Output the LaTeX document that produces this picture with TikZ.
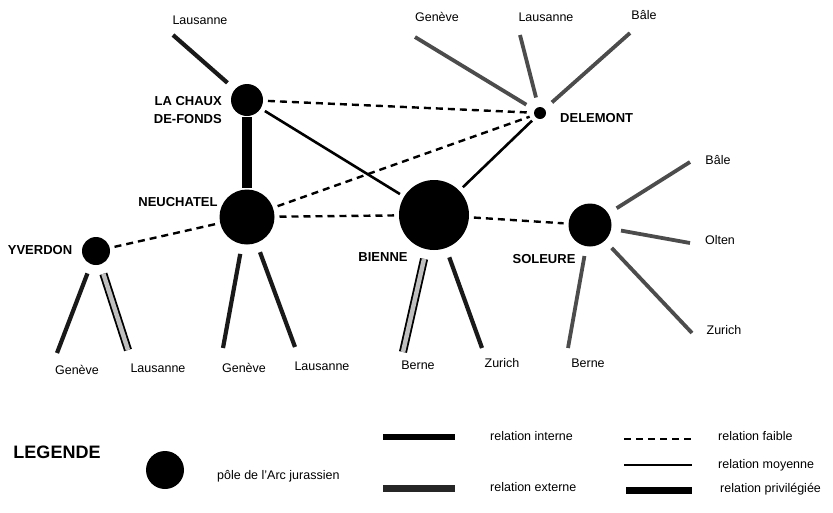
\documentclass[tikz,border=0pt]{standalone}
\usepackage{fontspec}
\setmainfont{Liberation Sans}

\begin{document}
\begin{tikzpicture}[x=1pt,y=-1pt,
    pole/.style={circle,fill=black,inner sep=0pt,outer sep=5pt},
    city/.style={inner sep=0pt,font=\fontsize{12.5}{13}\selectfont},
    town/.style={inner sep=0pt,font=\fontsize{13}{18}\selectfont\bfseries},
    faible/.style={line width=2.4pt,dash pattern=on 7pt off 5pt},
    moyenne/.style={line width=2.6pt},
    privil/.style={line width=10pt},
    ext/.style={line width=4.2pt,black!90,shorten <=5pt},
    extgris/.style={line width=3.8pt,black!70,shorten <=5pt},
    extdouble/.style={line width=1.8pt,double=black!25,double distance=4.5pt,shorten <=5pt}]

      \useasboundingbox (0,0) rectangle (833,512);

      \node (lcf) [pole,minimum size=32pt] at (247,100) {};
      \node (neu) [pole,minimum size=55pt] at (247,217) {};
      \node (yve) [pole,minimum size=28pt] at (96,251) {};
      \node (bie) [pole,minimum size=70pt] at (434,215) {};
      \node (sol) [pole,minimum size=43pt] at (590,225) {};
      \node (del) [pole,minimum size=12pt] at (540,113) {};

      \node (lcfname) [town,align=right,anchor=east] at (222,110) {LA CHAUX\\DE-FONDS};
      \node (neuname) [town] at (178,202) {NEUCHATEL};
      \node (yvename) [town] at (40,250) {YVERDON};
      \node (biename) [town] at (383,257) {BIENNE};
      \node (solname) [town] at (544,259) {SOLEURE};
      \node (delname) [town,anchor=west] at (560,118) {DELEMONT};

      \coordinate (lcflau) at (173,35);
      \coordinate (delgen) at (415,37);
      \coordinate (dellau) at (520,35);
      \coordinate (delbal) at (630,33);
      \coordinate (solbal) at (690,162);
      \coordinate (sololt) at (690,243);
      \coordinate (solzur) at (692,333);
      \coordinate (solber) at (568,348);
      \coordinate (bieber) at (403,352);
      \coordinate (biezur) at (482,348);
      \coordinate (neugen) at (223,348);
      \coordinate (neulau) at (295,347);
      \coordinate (yvegen) at (57,353);
      \coordinate (yvelau) at (128,350);

      \node (t1) [city] at (200,20) {Lausanne};
      \node (t2) [city] at (437,17) {Genève};
      \node (t3) [city] at (546,17) {Lausanne};
      \node (t4) [city] at (644,15) {Bâle};
      \node (t5) [city] at (718,160) {Bâle};
      \node (t6) [city] at (720,240) {Olten};
      \node (t7) [city] at (724,330) {Zurich};
      \node (t8) [city] at (77,370) {Genève};
      \node (t9) [city] at (158,368) {Lausanne};
      \node (t10) [city] at (244,368) {Genève};
      \node (t11) [city] at (322,366) {Lausanne};
      \node (t12) [city] at (418,365) {Berne};
      \node (t13) [city] at (502,363) {Zurich};
      \node (t14) [city] at (588,363) {Berne};

      \draw[privil,shorten <=-4pt,shorten >=-3pt] (lcf) -- (neu);
      \draw[moyenne] (lcf) -- (bie);
      \draw[moyenne] (del) -- (bie);
      \draw[faible] (lcf) -- (del);
      \draw[faible] (neu) -- (del);
      \draw[faible] (neu) -- (bie);
      \draw[faible] (yve) -- (neu);
      \draw[faible] (bie) -- (sol);

      \draw[ext] (lcf) -- (lcflau);
      \draw[extgris] (del) -- (delgen);
      \draw[extgris] (del) -- (dellau);
      \draw[extgris] (del) -- (delbal);
      \draw[extgris] (sol) -- (solbal);
      \draw[extgris] (sol) -- (sololt);
      \draw[extgris] (sol) -- (solzur);
      \draw[extgris] (sol) -- (solber);
      \draw[extdouble] (bie) -- (bieber);
      \draw[ext] (bie) -- (biezur);
      \draw[ext] (neu) -- (neugen);
      \draw[ext] (neu) -- (neulau);
      \draw[ext] (yve) -- (yvegen);
      \draw[extdouble] (yve) -- (yvelau);

      \node (legende) [inner sep=0pt,font=\fontsize{18}{20}\selectfont\bfseries] at (57,452) {LEGENDE};
      \node (lpole) [pole,minimum size=38pt] at (165,470) {};
      \node (lpoletxt) [city,anchor=west] at (217,476) {pôle de l'Arc jurassien};

      \coordinate (li1) at (383,437);
      \coordinate (li2) at (455,437);
      \coordinate (le1) at (383,488);
      \coordinate (le2) at (455,488);
      \coordinate (lf1) at (624,439);
      \coordinate (lf2) at (692,439);
      \coordinate (lm1) at (624,465);
      \coordinate (lm2) at (692,465);
      \coordinate (lp1) at (626,490);
      \coordinate (lp2) at (692,490);

      \draw[line width=6pt] (li1) -- (li2);
      \draw[line width=7pt,black!85] (le1) -- (le2);
      \draw[faible] (lf1) -- (lf2);
      \draw[moyenne] (lm1) -- (lm2);
      \draw[line width=7pt] (lp1) -- (lp2);

      \node (linttxt) [city,anchor=west] at (490,436) {relation interne};
      \node (lexttxt) [city,anchor=west] at (490,487) {relation externe};
      \node (lfaitxt) [city,anchor=west] at (718,436) {relation faible};
      \node (lmoytxt) [city,anchor=west] at (718,465) {relation moyenne};
      \node (lpritxt) [city,anchor=west] at (720,489) {relation privilégiée};

    \end{tikzpicture}
\end{document}
